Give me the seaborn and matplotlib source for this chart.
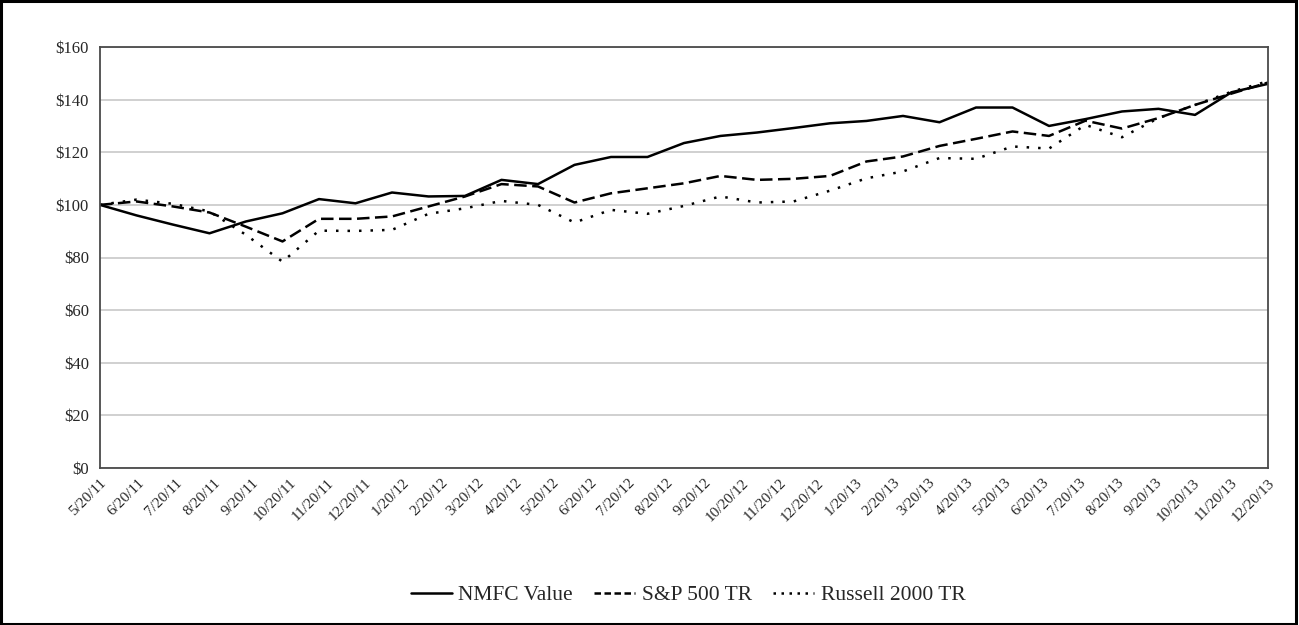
import pandas as pd
import seaborn as sns
import matplotlib.pyplot as plt
from matplotlib.patches import Rectangle

tick_labels = ['5/20/11', '6/20/11', '7/20/11', '8/20/11', '9/20/11', '10/20/11', '11/20/11', '12/20/11',
               '1/20/12', '2/20/12', '3/20/12', '4/20/12', '5/20/12', '6/20/12', '7/20/12', '8/20/12',
               '9/20/12', '10/20/12', '11/20/12', '12/20/12', '1/20/13', '2/20/13', '3/20/13', '4/20/13',
               '5/20/13', '6/20/13', '7/20/13', '8/20/13', '9/20/13', '10/20/13', '11/20/13', '12/20/13']

nmfc = [100, 96, 92.5, 89.2, 93.7, 96.8, 102.2, 100.6, 104.7, 103.2, 103.4, 109.5, 107.9,
        115.2, 118.2, 118.2, 123.5, 126.2, 127.5, 129.2, 131, 131.9, 133.8, 131.4, 137, 137,
        130, 132.6, 135.5, 136.5, 134.2, 142.8, 146]
sp500 = [100, 101.3, 99.4, 97.1, 91.7, 86.1, 94.7, 94.7, 95.6, 99.4, 103.2, 107.9, 107,
         100.9, 104.4, 106.3, 108.2, 111, 109.5, 109.9, 111, 116.5, 118.4, 122.4, 125.1, 127.9,
         126.2, 132, 129, 133, 138, 142.3, 146.5]
russell = [100, 102, 100.4, 97.5, 88.6, 78.4, 90.2, 90.1, 90.5, 96.6, 98.7, 101.5, 100,
           93.3, 98.1, 96.6, 99.6, 103.2, 100.9, 101.3, 105.4, 110.1, 112.7, 117.8, 117.5, 122.2,
           121.4, 130.4, 125.7, 133, 138, 143, 147]
series_names = ['NMFC Value', 'S&P 500 TR', 'Russell 2000 TR']

tick_dates = pd.to_datetime(tick_labels, format='%m/%d/%y')
# 33 observations spread over the same date span as the 32 monthly labels
data_dates = pd.date_range(tick_dates[0], tick_dates[-1], periods=len(nmfc))

df = pd.DataFrame({'date': data_dates, series_names[0]: nmfc,
                   series_names[1]: sp500, series_names[2]: russell})
long_df = df.melt(id_vars='date', var_name='series', value_name='value')

sns.set_style('white')
plt.rcParams['font.family'] = ['Liberation Serif', 'DejaVu Serif']

fig = plt.figure(figsize=(12.99, 6.25), dpi=100)
ax = fig.add_axes([100 / 1299, 1 - 468 / 625, 1168 / 1299, 421 / 625])

sns.lineplot(data=long_df, x='date', y='value', hue='series', style='series',
             palette=['black', 'black', 'black'],
             dashes={series_names[0]: '', series_names[1]: (5, 2.2), series_names[2]: (1, 3.6)},
             linewidth=1.8, ax=ax, legend=False)

ax.set_xlim(tick_dates[0], tick_dates[-1])
ax.set_ylim(0, 160)
ax.set_yticks(range(0, 161, 20))
ax.set_yticklabels([f'${v}' for v in range(0, 161, 20)], fontsize=12)
ax.set_xticks(tick_dates)
ax.set_xticklabels(tick_labels, rotation=45, ha='right', rotation_mode='anchor', fontsize=11)
ax.tick_params(axis='x', length=0, pad=6)
ax.tick_params(axis='y', length=0, pad=8)
ax.set_xlabel('')
ax.set_ylabel('')
ax.yaxis.grid(True, color='#c4c4c4', linewidth=1.1)
ax.set_axisbelow(True)
for s in ax.spines.values():
    s.set_color('#4a4a4a')
    s.set_linewidth(1.3)

handles = [plt.Line2D([], [], color='black', linewidth=1.8),
           plt.Line2D([], [], color='black', linewidth=1.8, dashes=(2.6, 1.4)),
           plt.Line2D([], [], color='black', linewidth=1.8, dashes=(1, 2.2))]
fig.legend(handles, series_names, loc='center', bbox_to_anchor=(688 / 1299, 1 - 595 / 625),
           ncol=3, frameon=False, fontsize=15.5, handlelength=1.9, columnspacing=1.0,
           handletextpad=0.3)

fig.patches.append(Rectangle((0.001, 0.002), 0.997, 0.996, transform=fig.transFigure,
                             fill=False, edgecolor='black', linewidth=2.2))

fig.savefig('out.png', dpi=100)
